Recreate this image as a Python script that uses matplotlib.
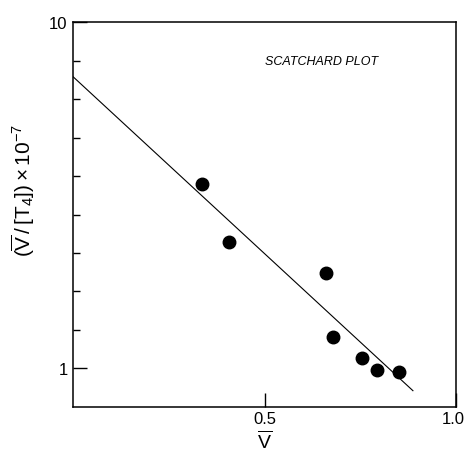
import matplotlib
matplotlib.use("Agg")
import matplotlib.pyplot as plt
import matplotlib.transforms as mtransforms
from matplotlib.ticker import FixedLocator, NullFormatter

# binding data
v_bar = [0.336, 0.407, 0.661, 0.679, 0.753, 0.793, 0.850]
ratio = [5.79, 4.29, 3.47, 1.82, 1.28, 0.97, 0.90]

# fitted line, end points
line_x = [0.0, 0.887]
line_y = [8.58, 0.42]

x_ticks = [0.5, 1.0]
x_tick_labels = ["0.5", "1.0"]
y_major = [1, 10]
y_major_labels = ["1", "10"]
y_minor = [2, 3, 4, 5, 6, 7, 8, 9]

plt.rcParams['font.family'] = ['Liberation Sans', 'DejaVu Sans']
plt.rcParams['mathtext.fontset'] = 'custom'
plt.rcParams['mathtext.rm'] = 'Liberation Sans'
plt.rcParams['mathtext.it'] = 'Liberation Sans:italic'

fig = plt.figure(figsize=(4.66, 4.64), dpi=100)
ax = fig.add_axes([0.157, 0.121, 0.822, 0.829])

ax.plot(line_x, line_y, color='black', lw=0.8)
ax.plot(v_bar, ratio, 'o', color='black', markersize=9, linestyle='none')

ax.set_xlim(0, 1.0)
ax.set_ylim(0, 10)

ax.set_xticks(x_ticks)
ax.set_xticklabels(x_tick_labels)
ax.set_yticks(y_major)
ax.set_yticklabels(y_major_labels)
ax.yaxis.set_minor_locator(FixedLocator(y_minor))
ax.yaxis.set_minor_formatter(NullFormatter())

ax.tick_params(axis='both', which='major', direction='in', length=10,
               width=1.0, labelsize=12, pad=4)
ax.tick_params(axis='y', which='minor', direction='in', length=5, width=1.0)
ax.tick_params(axis='x', which='major', pad=3)

# keep "1.0" inside the canvas
last = ax.get_xticklabels()[-1]
last.set_transform(last.get_transform() +
                   mtransforms.ScaledTranslation(-3 / 100, 0, fig.dpi_scale_trans))

for s in ax.spines.values():
    s.set_linewidth(1.1)

ax.set_xlabel(r'$\overline{\mathrm{V}}$', fontsize=14, labelpad=2)
ax.set_ylabel(r'$(\overline{\mathrm{V}}\,/\,[\mathrm{T}_4])\times10^{-7}$',
              fontsize=15)
ax.yaxis.set_label_coords(-0.095, 0.565)

ax.text(0.648, 8.98, "SCATCHARD PLOT", fontsize=9, style='italic',
        ha='center', va='center')

fig.savefig("out.png", dpi=100)
